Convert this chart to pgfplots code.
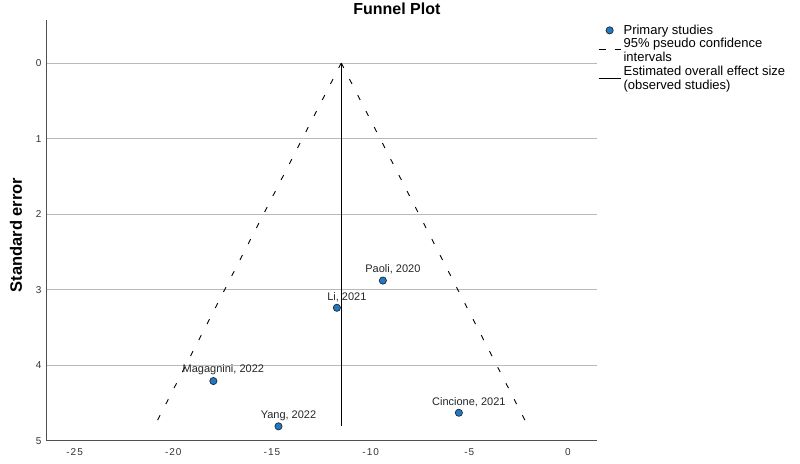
\documentclass[border=0pt]{standalone}
\usepackage{fontspec}
\setmainfont{Liberation Sans}
\newfontfamily\tickfont[LetterSpace=10]{Liberation Sans}
\usepackage{pgfplots}
\pgfplotsset{compat=1.18}
\definecolor{dotblue}{RGB}{30,122,200}
\definecolor{gridgray}{RGB}{185,185,185}
\definecolor{axisgray}{RGB}{80,80,80}

\pgfplotsset{
  dotlegend/.style={legend image code/.code={\draw[##1] plot coordinates {(11pt,0pt)};}},
  dashlegend/.style={legend image code/.code={\draw[##1] (0pt,1pt) -- (7pt,1pt); \draw[##1] (16pt,1pt) -- (22pt,1pt);}},
  solidlegend/.style={legend image code/.code={\draw[##1] (0pt,0pt) -- (22pt,0pt);}},
}

\begin{document}
\begin{tikzpicture}
\begin{axis}[
  name=fp,
  scale only axis, width=550pt, height=420.7pt,
  xmin=-26.4, xmax=1.47,
  ymin=-0.57, ymax=5, y dir=reverse,
  axis x line*=bottom, axis y line*=left,
  axis line style={axisgray, line width=1pt},
  major tick length=0pt,
  xtick={-25,-20,-15,-10,-5,0},
  xticklabels={-25,-20,-15,-10,-5,0},
  ytick={0,1,2,3,4,5},
  yticklabels={0,1,2,3,4,5},
  ymajorgrids, grid style={gridgray, line width=1pt},
  xticklabel style={font=\tickfont\fontsize{10}{12}\selectfont, text=black!80, yshift=-4pt},
  yticklabel style={font=\fontsize{10}{12}\selectfont, text=black!80, xshift=-2pt},
  title={Funnel Plot},
  title style={at={(axis description cs:0.636,1.012)}, anchor=center,
               font=\bfseries\fontsize{16}{18}\selectfont},
  ylabel={Standard error},
  ylabel style={at={(axis description cs:-0.0564,0.489)}, anchor=center,
                font=\bfseries\fontsize{16.5}{18}\selectfont},
  clip=false,
  legend style={at={(axis description cs:1.0018,0.99)}, anchor=north west,
                draw=none, fill=none, inner sep=0pt, row sep=1.5pt,
                font=\fontsize{13}{14}\selectfont,
                nodes={inner sep=0.5pt, align=left},
                /tikz/every odd column/.append style={column sep=2pt}},
  legend cell align=left,
]
% pseudo 95% confidence limits
\addplot[black, line width=0.9pt, dash pattern=on 5.5pt off 12.5pt, forget plot]
  coordinates {(-11.49,0) (-20.94,4.8)};
\addplot[black, line width=0.9pt, dash pattern=on 5.5pt off 12.5pt, forget plot]
  coordinates {(-11.49,0) (-2.04,4.8)};
% overall effect
\addplot[black, line width=1.1pt, forget plot]
  coordinates {(-11.49,0) (-11.49,4.8)};
% studies
\addplot[only marks, mark=*, mark size=3.6pt,
         mark options={fill=dotblue, draw=black!85, line width=0.7pt},
         nodes near coords, point meta=explicit symbolic,
         nodes near coords style={font=\fontsize{11}{13}\selectfont, text=black!85,
                                  anchor=center, xshift=10pt, yshift=11pt},
         forget plot]
  coordinates {
    (-9.38,2.88) [Paoli, 2020]
    (-11.71,3.24) [Li, 2021]
    (-17.97,4.21) [Magagnini, 2022]
    (-14.67,4.81) [Yang, 2022]
    (-5.53,4.63) [Cincione, 2021]
  };
% legend
\addlegendimage{only marks, mark=*, mark size=3.6pt,
  mark options={fill=dotblue, draw=black!85, line width=0.7pt}, dotlegend}
\addlegendentry{Primary studies}
\addlegendimage{black, line width=0.9pt, dashlegend}
\addlegendentry{95\% pseudo confidence\\intervals}
\addlegendimage{black, line width=0.9pt, solidlegend}
\addlegendentry{Estimated overall effect size\\(observed studies)}
\end{axis}
\pgfresetboundingbox
\path[use as bounding box] ([xshift=-47pt,yshift=-22.3pt]fp.south west)
  rectangle ([xshift=203pt,yshift=20pt]fp.north east);
\end{tikzpicture}
\end{document}
